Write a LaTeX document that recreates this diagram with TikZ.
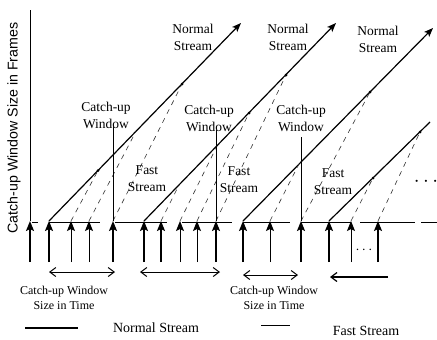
\documentclass[tikz,border=0pt]{standalone}
\usepackage{fontspec}
\setmainfont{Liberation Serif}
\newfontfamily\axisfont{Liberation Sans}
\usetikzlibrary{arrows.meta}

\begin{document}
\begin{tikzpicture}[x=1pt,y=-1pt,
  every node/.style={inner sep=0pt, align=center},
  labeltext/.style={font=\fontsize{13.5}{17}\selectfont},
  timetext/.style={font=\fontsize{12}{15}\selectfont},
  legendtext/.style={font=\fontsize{14}{16}\selectfont},
  upframe/.style={-{Stealth[length=10pt,width=8pt,inset=2pt]}},
  normalframe/.style={upframe,line width=1.8pt},
  fastframe/.style={upframe,line width=1pt},
  normalrun/.style={line width=1.2pt},
  runtip/.style={-{Stealth[length=9pt,width=7pt,inset=2pt]}},
  fastrun/.style={line width=0.6pt,black!80,dash pattern=on 5pt off 5pt},
  baseseg/.style={line width=0.9pt},
  catchline/.style={line width=0.9pt},
  timespan/.style={line width=1pt,{Straight Barb[length=6pt,width=9pt]}-{Straight Barb[length=6pt,width=9pt]}},
  spot/.style={circle,fill,inner sep=0pt,minimum size=3pt},
]
\fill[white] (0,0) rectangle (437,340);
\useasboundingbox (0,0) rectangle (437,340);

% frames arriving on the time line
\foreach \x/\n/\s in {30/0/normalframe,49/1/normalframe,71/2/fastframe,89/3/fastframe,
  113/4/normalframe,144/5/normalframe,161/6/normalframe,180/7/fastframe,197/8/fastframe,
  216/9/normalframe,243/10/normalframe,270/11/fastframe,301/12/normalframe,
  329/13/normalframe,351/14/fastframe,378/15/normalframe}{
  \coordinate (b\n) at (\x,262);
  \coordinate (t\n) at (\x,221);
  \draw[\s] (b\n) -- (t\n);
}

% vertical axis
\coordinate (ytop) at (30,10);
\draw[line width=0.9pt] (t0) -- (ytop);
\node[font=\axisfont\fontsize{14.2}{16}\selectfont, rotate=90] (ylab) at (14,128)
  {Catch-up Window Size in Frames};

% time line pieces
\foreach \a/\b/\n in {32/38/1,49/100/2,115/167/3,182/232/4,243/290/5,301/351/6,360/415/7,421/437/8}{
  \coordinate (la\n) at (\a,222);
  \coordinate (lb\n) at (\b,222);
  \draw[baseseg] (la\n) -- (lb\n);
}

% normal streams
\coordinate (eA) at (241,23);
\coordinate (eB) at (336,23);
\coordinate (eC) at (433,28);
\coordinate (eD) at (430,122);
\draw[normalrun,runtip] (t1) -- (eA);
\draw[normalrun,runtip] (t5) -- (eB);
\draw[normalrun,runtip] (t10) -- (eC);
\draw[normalrun] (t13) -- (eD);

% points where the fast streams join the normal ones
\coordinate (pA1) at (98,170.5);
\coordinate (pA2) at (136,131.3);
\coordinate (pA3) at (182,84);
\coordinate (pB1) at (179,185);
\coordinate (pB2) at (217,146);
\coordinate (pB3) at (249,113);
\coordinate (pB4) at (286,75);
\coordinate (pC1) at (299,164);
\coordinate (pC2) at (370,92);
\coordinate (pD1) at (373,178);
\coordinate (pD2) at (420,132);

% fast streams
\draw[fastrun] (t2) -- (pA1);
\draw[fastrun] (t3) -- (pA2);
\draw[fastrun] (t4) -- (pA3);
\draw[fastrun] (t6) -- (pB1);
\draw[fastrun] (t7) -- (pB2);
\draw[fastrun] (t8) -- (pB3);
\draw[fastrun] (t9) -- (pB4);
\draw[fastrun] (t11) -- (pC1);
\draw[fastrun] (t12) -- (pC2);
\draw[fastrun] (t14) -- (pD1);
\draw[fastrun] (t15) -- (pD2);

\foreach \p in {pA1,pA3,pB3,pB4,pC2,pD1,pD2}{
  \node[spot] (d\p) at (\p) {};
}

% catch-up window markers
\coordinate (w1) at (113,124);
\coordinate (w2) at (216,130);
\coordinate (w3) at (301,137);
\draw[catchline] (t4) -- (w1);
\draw[catchline] (t9) -- (w2);
\draw[catchline] (t12) -- (w3);

\node[labeltext] (cw1) at (106,115) {Catch-up\\Window};
\node[labeltext] (cw2) at (209,118) {Catch-up\\Window};
\node[labeltext] (cw3) at (301,118) {Catch-up\\Window};
\node[labeltext] (ns1) at (193,37) {Normal\\Stream};
\node[labeltext] (ns2) at (288,37) {Normal\\Stream};
\node[labeltext] (ns3) at (378,39) {Normal\\Stream};
\node[labeltext] (fs1) at (147,179) {Fast\\Stream};
\node[labeltext] (fs2) at (239,180) {Fast\\Stream};
\node[labeltext] (fs3) at (333,182) {Fast\\Stream};

\node[font=\fontsize{20}{20}\selectfont] (more1) at (426,182) {$\cdots$};
\node[font=\fontsize{14}{14}\selectfont] (more2) at (364,250) {$\cdots$};

% window sizes in time
\coordinate (sa1) at (49,272);
\coordinate (sb1) at (115,272);
\coordinate (sa2) at (140,272);
\coordinate (sb2) at (220,272);
\coordinate (sa3) at (243,275);
\coordinate (sb3) at (298,275);
\coordinate (sa4) at (388,277);
\coordinate (sb4) at (330,277);
\draw[timespan] (sa1) -- (sb1);
\draw[timespan] (sa2) -- (sb2);
\draw[timespan] (sa3) -- (sb3);
\draw[line width=1.2pt,-{Straight Barb[length=6pt,width=9pt]}] (sa4) -- (sb4);

\node[timetext] (ct1) at (64,298) {Catch-up Window\\Size in Time};
\node[timetext] (ct2) at (274,298) {Catch-up Window\\Size in Time};

% legend
\coordinate (ln1) at (25,328);
\coordinate (ln2) at (78,328);
\coordinate (lf1) at (261,325);
\coordinate (lf2) at (290,325);
\draw[line width=1.2pt] (ln1) -- (ln2);
\draw[line width=0.7pt] (lf1) -- (lf2);
\node[legendtext] (lgn) at (156,328) {Normal Stream};
\node[legendtext] (lgf) at (366,331) {Fast Stream};
\end{tikzpicture}
\end{document}
